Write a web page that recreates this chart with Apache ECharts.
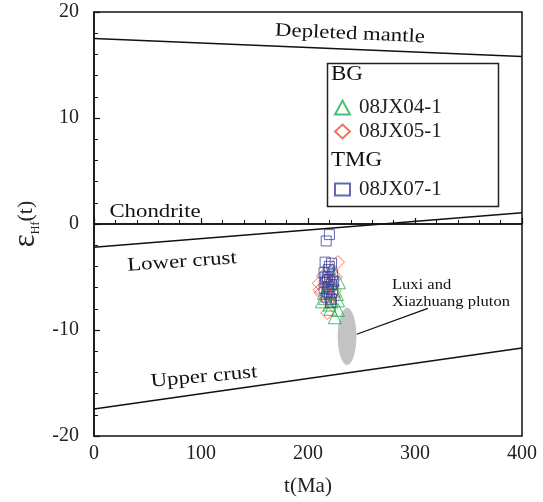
<!DOCTYPE html>
<html><head><meta charset="utf-8">
<script src="https://cdn.jsdelivr.net/npm/echarts@6/dist/echarts.min.js"></script>
<style>html,body{margin:0;padding:0;background:#fff}#c{width:543px;height:502px}</style>
</head><body><div id="c"></div>
<script>
// reference evolution lines [age Ma, εHf(t)]
const depletedMantle = [[0, 17.5], [400, 15.8]];
const chondrite = [[0, 0], [400, 0]];
const lowerCrust = [[0, -2.2], [400, 1.05]];
const upperCrust = [[0, -17.45], [400, -11.7]];
// zircon data [age Ma, εHf(t)]
const jx04 = [[221,-4.4],[223,-5.3],[219,-6.0],[227,-6.6],[216,-7.0],[222,-7.3],[228,-7.2],[220,-7.6],[225,-8.8],[228,-8.1],[215,-6.5],[224,-6.3],[219,-5.6],[213,-7.3],[229,-5.5],[221,-8.0]];
const jx05 = [[228,-3.6],[214,-4.9],[226,-5.0],[210,-5.6],[220,-5.0],[218,-6.0],[225,-6.3],[212,-6.5],[221,-6.8],[219,-7.3],[218,-8.4],[223,-5.8],[211,-6.2],[222,-4.4],[216,-5.4],[224,-7.0]];
const jx07 = [[220,-1.0],[217,-1.6],[216,-3.6],[222,-3.7],[219,-4.3],[215,-4.6],[223,-4.8],[218,-5.0],[220,-5.2],[216,-5.5],[222,-5.7],[219,-5.9],[215,-6.1],[223,-6.2],[218,-6.4],[220,-6.6],[217,-6.9],[222,-7.1],[218,-5.3],[220,-4.0],[216,-5.0],[221,-7.4],[224,-5.4]];
// Luxi and Xiazhuang pluton field: [center age, center εHf, width Ma, height εHf]
const pluton = [[236.5, -10.6, 17.5, 5.4]];
const plutonLeader = [[245.5, -10.4], [312, -7.95]];
const xTicks = [0, 100, 200, 300, 400];
const yTicks = [-20, -10, 0, 10, 20];

const FONT = 'Liberation Serif';
const chart = echarts.init(document.getElementById('c'), null, {renderer: 'canvas'});

function refLine(name, data) {
  return {name, type: 'line', data, symbol: 'none', silent: true, z: 3,
    lineStyle: {color: '#111', width: 1.5}, legendHoverLink: false};
}
const axisCommon = {
  axisLine: {show: true, lineStyle: {color: '#111', width: 1.5}},
  axisTick: {show: true, inside: true, length: 6, lineStyle: {color: '#111', width: 1.2}},
  minorTick: {show: true, splitNumber: 5, length: 4, lineStyle: {color: '#111', width: 1}},
  splitLine: {show: false}
};
function label(text, x, y, rot, size, sx, align) {
  return {type: 'text', x, y, rotation: rot || 0, scaleX: sx || 1.2, z: 11,
    style: {text, font: (size || 19) + 'px "Liberation Serif"', fill: '#111',
      align: align || 'center', verticalAlign: 'middle', lineHeight: 17}};
}

chart.setOption({
  animation: false,
  backgroundColor: '#fff',
  grid: {left: 94, right: 21, top: 12, bottom: 65, show: true, borderColor: '#111', borderWidth: 1.5},
  xAxis: Object.assign({}, axisCommon, {
    type: 'value', min: xTicks[0], max: xTicks[xTicks.length - 1], interval: 100,
    name: 't(Ma)', nameLocation: 'middle', nameGap: 40,
    nameTextStyle: {fontFamily: FONT, fontSize: 21, color: '#222'},
    axisLabel: {fontFamily: FONT, fontSize: 20, color: '#222', margin: 8}
  }),
  yAxis: Object.assign({}, axisCommon, {
    type: 'value', min: yTicks[0], max: yTicks[yTicks.length - 1], interval: 10,
    name: '{e|ε}{s|Hf}{t|(t)}', nameLocation: 'middle', nameGap: 50,
    nameTextStyle: {fontFamily: FONT, color: '#222',
      rich: {
        e: {fontFamily: FONT, fontSize: 31, color: '#222'},
        s: {fontFamily: FONT, fontSize: 12, color: '#222', verticalAlign: 'bottom', padding: [10, 0, 0, 0]},
        t: {fontFamily: FONT, fontSize: 22, color: '#222'}
      }},
    axisLabel: {fontFamily: FONT, fontSize: 20, color: '#222', margin: 15}
  }),
  legend: [
    {data: ['08JX04-1', '08JX05-1'], orient: 'vertical', left: 334, top: 97, padding: 0, itemGap: 3,
     itemWidth: 15, itemHeight: 14,
     textStyle: {fontFamily: FONT, fontSize: 21, color: '#222', padding: [0, 0, 0, 4]}},
    {data: ['08JX07-1'], orient: 'vertical', left: 334, top: 179, padding: 0, itemGap: 4,
     itemWidth: 15, itemHeight: 12,
     textStyle: {fontFamily: FONT, fontSize: 21, color: '#222', padding: [0, 0, 0, 4]}}
  ],
  graphic: [
    {type: 'rect', left: 325, top: 61, shape: {width: 171, height: 143}, style: {fill: 'none', stroke: '#222', lineWidth: 1.5}, z: 10},
    label('BG', 331, 75, 0, 20, 1.15, 'left'),
    label('TMG', 331, 161, 0, 20, 1.15, 'left'),
    label('Depleted mantle', 350, 34, -0.045),
    label('Chondrite', 155, 212, 0),
    label('Lower crust', 182, 262, 0.07),
    label('Upper crust', 204, 377, 0.09),
    label('Luxi and\nXiazhuang pluton', 392, 294, 0, 14, 1.18, 'left')
  ],
  series: [
    refLine('Depleted mantle', depletedMantle),
    refLine('Chondrite', chondrite),
    refLine('Lower crust', lowerCrust),
    refLine('Upper crust', upperCrust),
    {name: 'pluton', type: 'custom', silent: true, z: 1, data: pluton,
     renderItem: function (params, api) {
       const c = api.coord([api.value(0), api.value(1)]);
       const s = api.size([api.value(2), api.value(3)]);
       return {type: 'circle', x: c[0], y: c[1], scaleX: s[0] / 2, scaleY: s[1] / 2,
         shape: {cx: 0, cy: 0, r: 1}, style: {fill: '#c3c3c3', stroke: 'none'}};
     }},
    {name: 'leader', type: 'line', data: plutonLeader, symbol: 'none', silent: true, z: 4,
     lineStyle: {color: '#111', width: 1.3}},
    {name: '08JX04-1', type: 'scatter', data: jx04, symbol: 'triangle', symbolSize: 13, z: 5,
     itemStyle: {color: 'rgba(0,0,0,0)', borderColor: '#1fae4e', borderWidth: 1}},
    {name: '08JX05-1', type: 'scatter', data: jx05, symbol: 'diamond', symbolSize: 13, z: 6,
     itemStyle: {color: 'rgba(0,0,0,0)', borderColor: '#f0522f', borderWidth: 1}},
    {name: '08JX07-1', type: 'scatter', data: jx07, symbol: 'rect', symbolSize: 10, z: 7,
     itemStyle: {color: 'rgba(0,0,0,0)', borderColor: '#3b43a0', borderWidth: 1}}
  ]
});
</script></body></html>
